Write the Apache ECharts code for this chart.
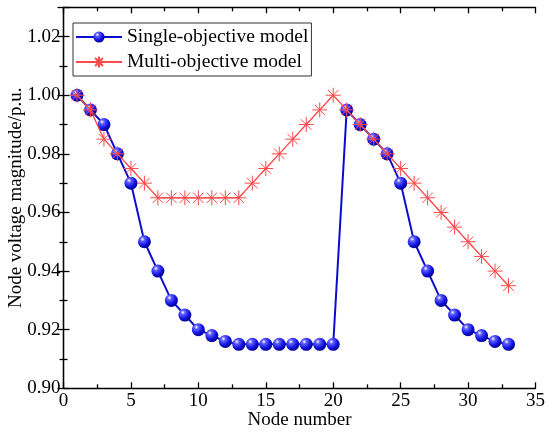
<!DOCTYPE html>
<html lang="en">
<head>
    <meta charset="UTF-8">
    <script src="https://cdn.jsdelivr.net/npm/echarts@6/dist/echarts.min.js"></script>
    <style>
        html, body { margin: 0; padding: 0; background: #fff; }
        #chart { width: 550px; height: 434px; }
    </style>
</head>
<body>
    <div id="chart"></div>
    <script type="text/javascript">
        // node numbers 1..33
        var nodes = [1, 2, 3, 4, 5, 6, 7, 8, 9, 10, 11, 12, 13, 14, 15, 16, 17,
            18, 19, 20, 21, 22, 23, 24, 25, 26, 27, 28, 29, 30, 31, 32, 33];
        var singleObj = [1.000, 0.995, 0.990, 0.980, 0.970, 0.950, 0.940, 0.930, 0.925, 0.920, 0.918,
            0.916, 0.915, 0.915, 0.915, 0.915, 0.915, 0.915, 0.915, 0.915, 0.995, 0.990,
            0.985, 0.980, 0.970, 0.950, 0.940, 0.930, 0.925, 0.920, 0.918, 0.916, 0.915];
        var multiObj = [1.000, 0.995, 0.985, 0.980, 0.975, 0.970, 0.965, 0.965, 0.965, 0.965, 0.965,
            0.965, 0.965, 0.970, 0.975, 0.980, 0.985, 0.990, 0.995, 1.000, 0.995, 0.990,
            0.985, 0.980, 0.975, 0.970, 0.965, 0.960, 0.955, 0.950, 0.945, 0.940, 0.935];
        var seriesNames = ['Single-objective model', 'Multi-objective model'];

        function pairs(xs, ys) {
            return xs.map(function (x, i) { return [x, ys[i]]; });
        }

        var font = 'Liberation Serif';
        var sphere = {
            type: 'radial', x: 0.35, y: 0.3, r: 0.75,
            colorStops: [
                { offset: 0, color: '#ffffff' },
                { offset: 0.22, color: '#6060ff' },
                { offset: 0.65, color: '#1010e0' },
                { offset: 1, color: '#000080' }
            ]
        };
        var asterisk = 'path://M0,5L10,5M5,0L5,10M1.5,1.5L8.5,8.5M8.5,1.5L1.5,8.5';

        var axisLine = { show: true, lineStyle: { color: '#000', width: 1.3 } };
        var tickIn = { show: true, inside: true, length: 6, lineStyle: { color: '#000', width: 1.3 } };
        var minorIn = { show: true, splitNumber: 2, length: 4, lineStyle: { color: '#000', width: 1.3 } };

        var chart = echarts.init(document.getElementById('chart'));
        var option = {
            animation: false,
            grid: { left: 63.5, right: 14.5, top: 7.3, bottom: 45.7, containLabel: false, outerBoundsMode: 'none' },
            legend: {
                left: 73, top: 23,
                orient: 'vertical',
                backgroundColor: '#fff',
                borderColor: '#333',
                borderWidth: 1,
                borderRadius: 0,
                padding: [4, 3, 4, 2],
                itemGap: 5,
                itemWidth: 46,
                itemHeight: 14,
                textStyle: { fontFamily: font, fontSize: 19.5, color: '#000' },
                data: seriesNames
            },
            xAxis: [{
                type: 'value',
                min: 0, max: 35, interval: 5,
                name: 'Node number',
                nameLocation: 'middle',
                nameGap: 22,
                nameMoveOverlap: false,
                nameTextStyle: { fontFamily: font, fontSize: 19, color: '#000' },
                axisLine: axisLine,
                axisTick: tickIn,
                minorTick: minorIn,
                splitLine: { show: false },
                axisLabel: { fontFamily: font, fontSize: 19, color: '#000', margin: 3 }
            }, {
                type: 'value', position: 'top',
                min: 0, max: 35, interval: 5,
                axisLine: axisLine,
                axisTick: tickIn,
                minorTick: minorIn,
                splitLine: { show: false },
                axisLabel: { show: false }
            }],
            yAxis: [{
                type: 'value',
                min: 0.9, max: 1.03, interval: 0.02,
                name: 'Node voltage magnitude/p.u.',
                nameLocation: 'middle',
                nameGap: 38,
                nameMoveOverlap: false,
                nameTextStyle: { fontFamily: font, fontSize: 19, color: '#000' },
                axisLine: axisLine,
                axisTick: tickIn,
                minorTick: minorIn,
                splitLine: { show: false },
                axisLabel: {
                    fontFamily: font, fontSize: 19, color: '#000', margin: 3,
                    showMaxLabel: false,
                    formatter: function (v) { return v.toFixed(2); }
                }
            }, {
                type: 'value', position: 'right',
                min: 0.9, max: 1.03, interval: 0.02,
                axisLine: axisLine,
                axisTick: tickIn,
                minorTick: minorIn,
                splitLine: { show: false },
                axisLabel: { show: false }
            }],
            series: [{
                name: seriesNames[0],
                type: 'line',
                data: pairs(nodes, singleObj),
                symbol: 'circle',
                symbolSize: 13,
                lineStyle: { color: '#0c0cce', width: 2 },
                itemStyle: { color: sphere, borderWidth: 0 },
                z: 2
            }, {
                name: seriesNames[1],
                type: 'line',
                data: pairs(nodes, multiObj),
                symbol: asterisk,
                symbolSize: 15,
                lineStyle: { color: '#ff4a4a', width: 1.3 },
                itemStyle: { color: '#ff4a4a', borderColor: '#ff4a4a', borderWidth: 1 },
                z: 3
            }]
        };
        chart.setOption(option);
    </script>
</body>
</html>
